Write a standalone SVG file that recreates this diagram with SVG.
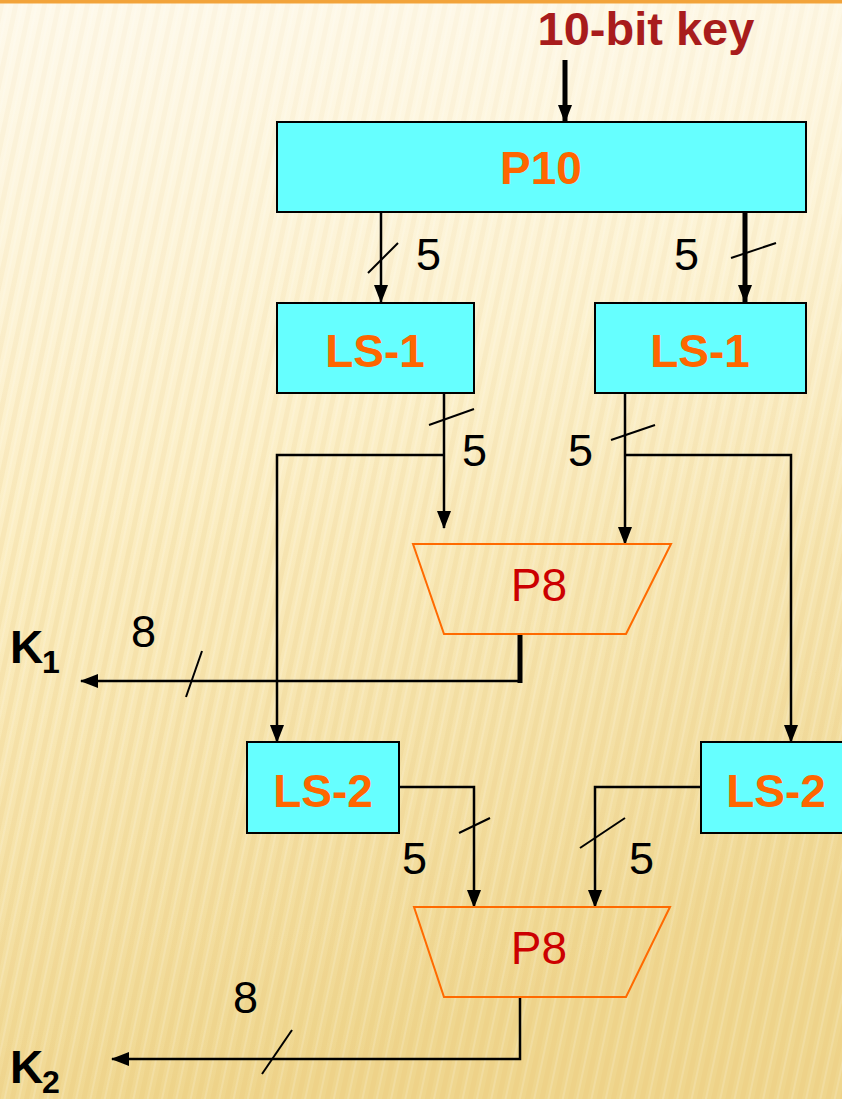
<svg xmlns="http://www.w3.org/2000/svg" width="842" height="1099" viewBox="0 0 842 1099">
<defs>
<linearGradient id="bg" x1="0" y1="0" x2="0.3" y2="1">
<stop offset="0" stop-color="#fdf1cd"/>
<stop offset="0.45" stop-color="#fbebb8"/>
<stop offset="1" stop-color="#efd68e"/>
</linearGradient>
<pattern id="stripes" width="14" height="40" patternUnits="userSpaceOnUse" patternTransform="rotate(12)">
<rect x="0" y="0" width="5" height="40" fill="#e6c270" opacity="0.22"/>
<rect x="8" y="0" width="2" height="40" fill="#ffffff" opacity="0.15"/>
</pattern>
<linearGradient id="fade" x1="0" y1="0" x2="0" y2="1">
<stop offset="0" stop-color="#fff" stop-opacity="0.6"/>
<stop offset="0.5" stop-color="#fff" stop-opacity="0.15"/>
<stop offset="1" stop-color="#fff" stop-opacity="0"/>
</linearGradient>
<marker id="ah" markerUnits="userSpaceOnUse" markerWidth="18" markerHeight="14" refX="17" refY="7" orient="auto">
<path d="M0,0 L18,7 L0,14 z" fill="#000"/>
</marker>
</defs>
<style>
.box{fill:#66ffff;stroke:#000;stroke-width:2}
.trap{fill:none;stroke:#ff6a00;stroke-width:2}
.bl{font-family:"Liberation Sans",Arial,sans-serif;font-weight:bold;font-size:46px;fill:#ff6600;text-anchor:middle}
.p8{font-family:"Liberation Sans",Arial,sans-serif;font-size:46px;fill:#cc0000;text-anchor:middle}
.num{font-family:"Liberation Sans",Arial,sans-serif;font-size:45px;fill:#000}
.k{font-family:"Liberation Sans",Arial,sans-serif;font-weight:bold;font-size:46px;fill:#000}
.ks{font-family:"Liberation Sans",Arial,sans-serif;font-weight:bold;font-size:32px;fill:#000}
.ln{fill:none;stroke:#000;stroke-width:2.5}
.thk{fill:none;stroke:#000;stroke-width:5}
.sl{stroke:#000;stroke-width:2}
</style>
<rect width="842" height="1099" fill="url(#bg)"/>
<rect width="842" height="1099" fill="url(#stripes)"/>
<rect width="842" height="1099" fill="url(#fade)"/>
<rect x="0" y="0" width="842" height="3.5" fill="#f2a33a"/>

<text x="646" y="45" font-family="'Liberation Sans',Arial,sans-serif" font-weight="bold" font-size="47" fill="#a81c1c" text-anchor="middle">10-bit key</text>

<g id="connectors">
<path class="thk" d="M565,60 V122" stroke-width="4.5" marker-end="url(#ah)"/>
<path class="ln" d="M381,212 V302" marker-end="url(#ah)"/>
<path class="thk" d="M745,212 V302" marker-end="url(#ah)"/>
<path class="ln" d="M444,393 V528" marker-end="url(#ah)"/>
<path class="ln" d="M444,455 H277 V742" marker-end="url(#ah)"/>
<path class="ln" d="M625,393 V544" marker-end="url(#ah)"/>
<path class="ln" d="M625,455 H791 V742" marker-end="url(#ah)"/>
<path class="thk" d="M520,634 V683"/>
<path class="ln" d="M522,681 H81" marker-end="url(#ah)"/>
<path class="ln" d="M399,787 H474 V907" marker-end="url(#ah)"/>
<path class="ln" d="M701,787 H595 V907" marker-end="url(#ah)"/>
<path class="ln" d="M520,997 V1059 H112" marker-end="url(#ah)"/>
<line class="sl" x1="368" y1="273" x2="398" y2="243"/>
<line class="sl" x1="731" y1="258" x2="776" y2="243"/>
<line class="sl" x1="429" y1="425" x2="474" y2="409"/>
<line class="sl" x1="611" y1="440" x2="655" y2="425"/>
<line class="sl" x1="186" y1="697" x2="202" y2="651"/>
<line class="sl" x1="459" y1="833" x2="490" y2="818"/>
<line class="sl" x1="580" y1="848" x2="625" y2="818"/>
<line class="sl" x1="262" y1="1074" x2="292" y2="1030"/>
<text class="num" x="416" y="270">5</text>
<text class="num" x="674" y="270">5</text>
<text class="num" x="462" y="466">5</text>
<text class="num" x="568" y="466">5</text>
<text class="num" x="131" y="647">8</text>
<text class="num" x="402" y="874">5</text>
<text class="num" x="629" y="874">5</text>
<text class="num" x="233" y="1013">8</text>
</g>

<g id="p10">
<rect class="box" x="277" y="122" width="529" height="90"/>
<text class="bl" x="541" y="184">P10</text>
</g>
<g id="ls1-left">
<rect class="box" x="277" y="303" width="197" height="90"/>
<text class="bl" x="375" y="367">LS-1</text>
</g>
<g id="ls1-right">
<rect class="box" x="595" y="303" width="211" height="90"/>
<text class="bl" x="700" y="367">LS-1</text>
</g>
<g id="p8-top">
<polygon class="trap" points="413,544 671,544 626,634 444,634"/>
<text class="p8" x="539" y="601">P8</text>
</g>
<g id="ls2-left">
<rect class="box" x="247" y="742" width="152" height="91"/>
<text class="bl" x="323" y="807">LS-2</text>
</g>
<g id="ls2-right">
<rect class="box" x="701" y="742" width="150" height="91"/>
<text class="bl" x="776" y="807">LS-2</text>
</g>
<g id="p8-bottom">
<polygon class="trap" points="414,907 670,907 626,997 444,997"/>
<text class="p8" x="539" y="964">P8</text>
</g>
<g id="k1">
<text class="k" x="10" y="663">K</text>
<text class="ks" x="42" y="673">1</text>
</g>
<g id="k2">
<text class="k" x="10" y="1083">K</text>
<text class="ks" x="42" y="1093">2</text>
</g>
</svg>
